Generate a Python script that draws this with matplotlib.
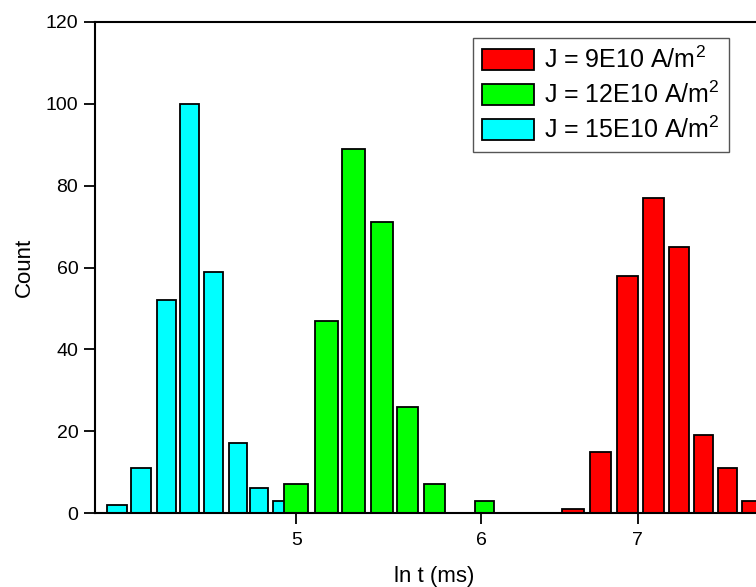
import numpy as np
import matplotlib
matplotlib.use("Agg")
import matplotlib.pyplot as plt
from matplotlib.ticker import FixedLocator, NullLocator, FixedFormatter

plt.rcParams["font.family"] = ["Liberation Sans", "DejaVu Sans"]
plt.rcParams["mathtext.fontset"] = "custom"
plt.rcParams["mathtext.rm"] = "Liberation Sans"
plt.rcParams["mathtext.it"] = "Liberation Sans:italic"

# bin centres (ln t) and counts
x_15 = [4.19, 4.29, 4.40, 4.50, 4.61, 4.72, 4.82, 4.93]
n_15 = [2, 11, 52, 100, 59, 17, 6, 3]

x_12 = [5.00, 5.15, 5.29, 5.44, 5.58, 5.73, 5.87, 6.02]
n_12 = [7, 47, 89, 71, 26, 7, 0, 3]

x_9 = [6.57, 6.75, 6.93, 7.11, 7.29, 7.47, 7.65, 7.83]
n_9 = [1, 15, 58, 77, 65, 19, 11, 3]

etiquetas = ["J = 9E10 A/m$^2$", "J = 12E10 A/m$^2$", "J = 15E10 A/m$^2$"]
colores = ["#ff0000", "#00ff00", "#00ffff"]

fig = plt.figure(figsize=(7.56, 5.87), dpi=100)
ax = fig.add_axes([95 / 756, 74 / 587, (773 - 95) / 756, 491 / 587])

b15 = ax.bar(x_15, n_15, width=0.0856, color=colores[2], edgecolor="black", linewidth=1.3)
b12 = ax.bar(x_12, n_12, width=0.116, color=colores[1], edgecolor="black", linewidth=1.3)
b9 = ax.bar(x_9, n_9, width=0.144, color=colores[0], edgecolor="black", linewidth=1.3)

ax.set_xscale("log")
ax.set_xlim(4.10, 8.0)
ax.set_ylim(0, 120)
ax.xaxis.set_major_locator(FixedLocator([5, 6, 7]))
ax.xaxis.set_major_formatter(FixedFormatter(["5", "6", "7"]))
ax.xaxis.set_minor_locator(NullLocator())
ax.set_yticks(np.arange(0, 121, 20))

for s in ax.spines.values():
    s.set_linewidth(1.5)
ax.tick_params(direction="out", length=8, width=1.3, labelsize=14)
ax.tick_params(axis="x", pad=6)
ax.tick_params(axis="y", pad=4)

ax.set_xlabel("ln t (ms)", fontsize=16, labelpad=12)
ax.set_ylabel("Count", fontsize=16, labelpad=8)

leg = ax.legend([b9, b12, b15], etiquetas, loc="upper left",
                bbox_to_anchor=(473 / 756, 1 - 38 / 587), bbox_transform=fig.transFigure,
                fontsize=18, fancybox=False, framealpha=1, edgecolor="#555555",
                handlelength=2.1, handleheight=0.9, handletextpad=0.4,
                labelspacing=0.35, borderpad=0.35, borderaxespad=0)
leg.get_frame().set_linewidth(1.0)

fig.savefig("out.png", dpi=100)
